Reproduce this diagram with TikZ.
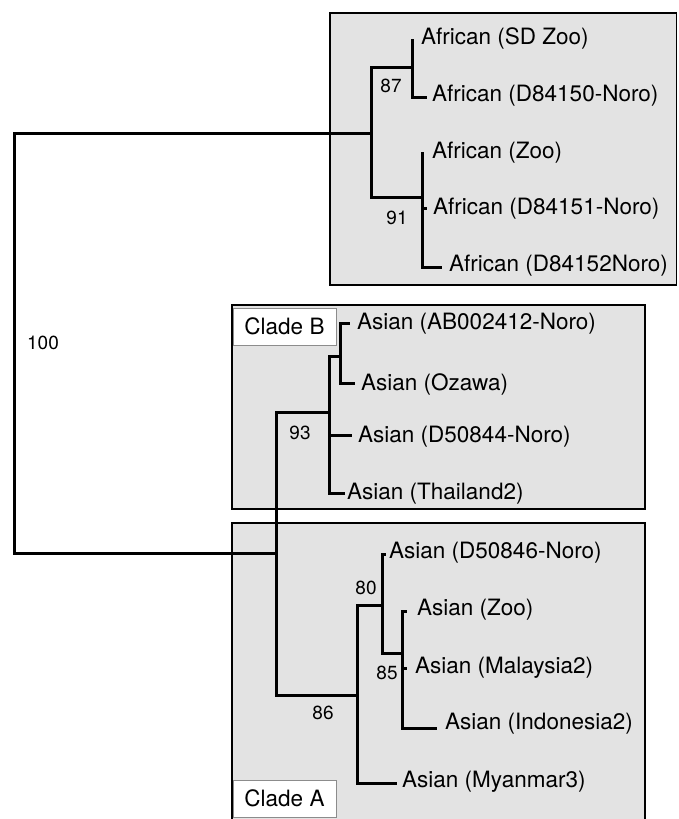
\documentclass[tikz,border=0pt]{standalone}
\usepackage{fontspec}
\setmainfont{TeX Gyre Heros}
\definecolor{boxgray}{gray}{0.89}
\definecolor{framegray}{gray}{0.55}
\tikzset{
  clade/.style={fill=boxgray, draw=black, line width=1.5pt},
  branch/.style={line width=3pt, line cap=rect, line join=miter},
  leaf/.style={anchor=west, inner sep=0pt, font=\fontsize{22.5}{27}\selectfont},
  boot/.style={inner sep=0pt, font=\fontsize{19}{22}\selectfont},
  cladetag/.style={draw=framegray, fill=white, line width=0.8pt, minimum width=103pt, minimum height=37pt, inner sep=0pt, font=\fontsize{22.5}{27}\selectfont}
}
\begin{document}
\begin{tikzpicture}[x=1pt,y=-1pt]
\useasboundingbox (0,0) rectangle (678,819);
% clade boxes
\path[clade] (330,13) rectangle (676.5,285);
\path[clade] (232,305) rectangle (645,509);
\fill[boxgray] (232,523) rectangle (645,819);
\draw[line width=1.5pt] (232,822) -- (232,523) -- (645,523) -- (645,822);
\node[cladetag] (cB) at (284.5,326.5) {Clade B};
\node[cladetag] (cA) at (284.5,798.5) {Clade A};

% internal nodes
\coordinate (root) at (14,343);
\coordinate (afr)  at (371,133);
\coordinate (A87)  at (412,67);
\coordinate (A91)  at (422,197);
\coordinate (asia) at (276,553);
\coordinate (B93)  at (329,412);
\coordinate (Bsub) at (340,356);
\coordinate (A86)  at (357,695);
\coordinate (N80)  at (382,605);
\coordinate (N85)  at (402,653);

% leaf tips
\coordinate (t1)  at (412,40);
\coordinate (t2)  at (425,97);
\coordinate (t3)  at (422,153);
\coordinate (t4)  at (425,208);
\coordinate (t5)  at (440,267);
\coordinate (t6)  at (348,323);
\coordinate (t7)  at (353,383);
\coordinate (t8)  at (350,435);
\coordinate (t9)  at (343,493);
\coordinate (t10) at (384,554);
\coordinate (t11) at (405,611);
\coordinate (t12) at (405,668);
\coordinate (t13) at (435,728);
\coordinate (t14) at (395,783);

% branches
\draw[branch] (afr) -| (root) |- (asia);
\draw[branch] (A87) -| (afr) |- (A91);
\draw[branch] (t1) |- (t2);
\draw[branch] (t3) |- (t5);
\draw[branch] (t4 -| A91) -- (t4);
\draw[branch] (B93) -| (asia) |- (A86);
\draw[branch] (Bsub) -| (B93) |- (t9);
\draw[branch] (t8 -| B93) -- (t8);
\draw[branch] (t6) -| (Bsub) |- (t7);
\draw[branch] (N80) -| (A86) |- (t14);
\draw[branch] (t10) -| (N80) |- (N85);
\draw[branch] (t11) -| (N85) |- (t13);
\draw[branch] (t12 -| N85) -- (t12);

% leaf labels
\node[leaf] (l1)  at (421,38)  {African (SD Zoo)};
\node[leaf] (l2)  at (432,96)  {African (D84150-Noro)};
\node[leaf] (l3)  at (432,153) {African (Zoo)};
\node[leaf] (l4)  at (433,209) {African (D84151-Noro)};
\node[leaf] (l5)  at (449,266) {African (D84152Noro)};
\node[leaf] (l6)  at (357,324) {Asian (AB002412-Noro)};
\node[leaf] (l7)  at (361,384) {Asian (Ozawa)};
\node[leaf] (l8)  at (358,437) {Asian (D50844-Noro)};
\node[leaf] (l9)  at (347,494) {Asian (Thailand2)};
\node[leaf] (l10) at (389,553) {Asian (D50846-Noro)};
\node[leaf] (l11) at (417,610) {Asian (Zoo)};
\node[leaf] (l12) at (415,668) {Asian (Malaysia2)};
\node[leaf] (l13) at (445,724) {Asian (Indonesia2)};
\node[leaf] (l14) at (402,782) {Asian (Myanmar3)};

% bootstrap values
\node[boot] (b100) at (43,343) {100};
\node[boot] (b87)  at (391,86)  {87};
\node[boot] (b91)  at (397,218) {91};
\node[boot] (b93)  at (300,433) {93};
\node[boot] (b80)  at (366,588) {80};
\node[boot] (b85)  at (387,673) {85};
\node[boot] (b86)  at (323,713) {86};
\end{tikzpicture}
\end{document}
